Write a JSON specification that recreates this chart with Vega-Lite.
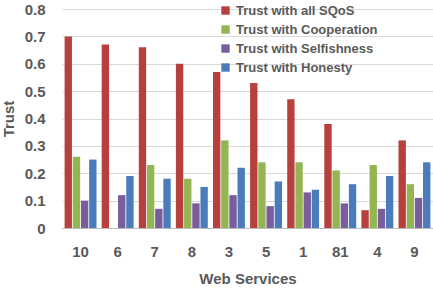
{
  "$schema": "https://vega.github.io/schema/vega-lite/v6.json",
  "width": 371,
  "height": 219,
  "autosize": {"type": "none"},
  "padding": {"left": 62, "top": 9, "right": 0, "bottom": 60},
  "background": "white",
  "data": {
    "values": [
      {"ws": "10", "series": "Trust with all SQoS", "trust": 0.70},
      {"ws": "10", "series": "Trust with Cooperation", "trust": 0.26},
      {"ws": "10", "series": "Trust with Selfishness", "trust": 0.10},
      {"ws": "10", "series": "Trust with Honesty", "trust": 0.25},
      {"ws": "6", "series": "Trust with all SQoS", "trust": 0.67},
      {"ws": "6", "series": "Trust with Selfishness", "trust": 0.12},
      {"ws": "6", "series": "Trust with Honesty", "trust": 0.19},
      {"ws": "7", "series": "Trust with all SQoS", "trust": 0.66},
      {"ws": "7", "series": "Trust with Cooperation", "trust": 0.23},
      {"ws": "7", "series": "Trust with Selfishness", "trust": 0.07},
      {"ws": "7", "series": "Trust with Honesty", "trust": 0.18},
      {"ws": "8", "series": "Trust with all SQoS", "trust": 0.60},
      {"ws": "8", "series": "Trust with Cooperation", "trust": 0.18},
      {"ws": "8", "series": "Trust with Selfishness", "trust": 0.09},
      {"ws": "8", "series": "Trust with Honesty", "trust": 0.15},
      {"ws": "3", "series": "Trust with all SQoS", "trust": 0.57},
      {"ws": "3", "series": "Trust with Cooperation", "trust": 0.32},
      {"ws": "3", "series": "Trust with Selfishness", "trust": 0.12},
      {"ws": "3", "series": "Trust with Honesty", "trust": 0.22},
      {"ws": "5", "series": "Trust with all SQoS", "trust": 0.53},
      {"ws": "5", "series": "Trust with Cooperation", "trust": 0.24},
      {"ws": "5", "series": "Trust with Selfishness", "trust": 0.08},
      {"ws": "5", "series": "Trust with Honesty", "trust": 0.17},
      {"ws": "1", "series": "Trust with all SQoS", "trust": 0.47},
      {"ws": "1", "series": "Trust with Cooperation", "trust": 0.24},
      {"ws": "1", "series": "Trust with Selfishness", "trust": 0.13},
      {"ws": "1", "series": "Trust with Honesty", "trust": 0.14},
      {"ws": "81", "series": "Trust with all SQoS", "trust": 0.38},
      {"ws": "81", "series": "Trust with Cooperation", "trust": 0.21},
      {"ws": "81", "series": "Trust with Selfishness", "trust": 0.09},
      {"ws": "81", "series": "Trust with Honesty", "trust": 0.16},
      {"ws": "4", "series": "Trust with all SQoS", "trust": 0.065},
      {"ws": "4", "series": "Trust with Cooperation", "trust": 0.23},
      {"ws": "4", "series": "Trust with Selfishness", "trust": 0.07},
      {"ws": "4", "series": "Trust with Honesty", "trust": 0.19},
      {"ws": "9", "series": "Trust with all SQoS", "trust": 0.32},
      {"ws": "9", "series": "Trust with Cooperation", "trust": 0.16},
      {"ws": "9", "series": "Trust with Selfishness", "trust": 0.11},
      {"ws": "9", "series": "Trust with Honesty", "trust": 0.24}
    ]
  },
  "config": {
    "font": "Liberation Sans",
    "view": {"stroke": null}
  },
  "mark": {"type": "bar", "strokeWidth": 0},
  "encoding": {
    "x": {
      "field": "ws",
      "type": "nominal",
      "sort": ["10", "6", "7", "8", "3", "5", "1", "81", "4", "9"],
      "scale": {"paddingInner": 0.14, "paddingOuter": 0.07},
      "axis": {
        "title": "Web Services",
        "titleFontSize": 15,
        "titleFontWeight": "bold",
        "titleColor": "#595959",
        "titlePadding": 12,
        "labelAngle": 0,
        "labelFontSize": 15,
        "labelFontWeight": "bold",
        "labelColor": "#595959",
        "labelPadding": 16,
        "ticks": false,
        "domainColor": "#bfbfbf",
        "grid": false
      }
    },
    "xOffset": {
      "field": "series",
      "type": "nominal",
      "sort": ["Trust with all SQoS", "Trust with Cooperation", "Trust with Selfishness", "Trust with Honesty"],
      "scale": {"paddingInner": 0.1}
    },
    "y": {
      "field": "trust",
      "type": "quantitative",
      "scale": {"domain": [0, 0.8], "nice": false},
      "axis": {
        "title": "Trust",
        "titleFontSize": 15,
        "titleFontWeight": "bold",
        "titleColor": "#595959",
        "titlePadding": 8,
        "values": [0, 0.1, 0.2, 0.3, 0.4, 0.5, 0.6, 0.7, 0.8],
        "labelExpr": "datum.value == 0 ? '0' : format(datum.value, '.1f')",
        "labelFontSize": 15,
        "labelFontWeight": "bold",
        "labelColor": "#595959",
        "labelPadding": 17,
        "ticks": false,
        "domain": false,
        "gridColor": "#d9d9d9"
      }
    },
    "color": {
      "field": "series",
      "type": "nominal",
      "sort": ["Trust with all SQoS", "Trust with Cooperation", "Trust with Selfishness", "Trust with Honesty"],
      "scale": {
        "domain": ["Trust with all SQoS", "Trust with Cooperation", "Trust with Selfishness", "Trust with Honesty"],
        "range": ["#b8403c", "#93b552", "#7a5d9c", "#4a7cbb"]
      },
      "legend": {
        "title": null,
        "orient": "none",
        "legendX": 157,
        "legendY": -5,
        "symbolType": "square",
        "symbolSize": 70,
        "labelFontSize": 13,
        "labelFontWeight": "bold",
        "labelColor": "#595959",
        "rowPadding": 5,
        "labelOffset": 4
      }
    }
  }
}
